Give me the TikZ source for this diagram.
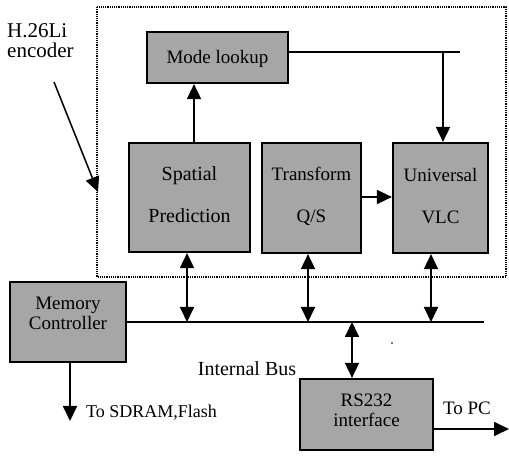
\documentclass[tikz,border=0pt]{standalone}
\usepackage{fontspec}
\setmainfont{Liberation Serif}
\usetikzlibrary{arrows.meta}
\begin{document}
\begin{tikzpicture}[x=1pt,y=-1pt,
  blockbox/.style={draw=black,line width=2.2pt,fill=black!35,rectangle,inner sep=0pt},
  lbl/.style={font=\fontsize{19}{20}\selectfont,align=center,inner sep=0pt},
  conn/.style={line width=1.8pt,-{Triangle[length=15pt,width=14pt]}},
  biconn/.style={line width=1.8pt,{Triangle[length=15pt,width=14pt]}-{Triangle[length=15pt,width=14pt]}},
  plain/.style={line width=1.8pt}]
\useasboundingbox (0,0) rectangle (509,462);

% encoder boundary
\draw[line width=1.2pt,dash pattern=on 1.2pt off 1pt] (97,7) rectangle (506,277);

% blocks
\node[blockbox,minimum width=141pt,minimum height=51pt] (mode) at (217.5,57.5) {};
\node[lbl] (modet) at (217.5,59) {Mode lookup};
\node[blockbox,minimum width=121pt,minimum height=109pt] (spatial) at (189.5,197.5) {};
\node[lbl,font=\fontsize{20}{21}\selectfont] (spatialt) at (189.5,195) {Spatial\\[21pt]Prediction};
\node[blockbox,minimum width=99pt,minimum height=110pt] (transform) at (311.5,198) {};
\node[lbl] (transformt) at (311.5,196) {Transform\\[22pt]Q/S};
\node[blockbox,minimum width=95pt,minimum height=110pt] (universal) at (440.5,198) {};
\node[lbl] (universalt) at (440.5,196) {Universal\\[22pt]VLC};
\node[blockbox,minimum width=116pt,minimum height=80pt] (mem) at (68,322) {};
\node[lbl] (memt) at (68,313) {Memory\\Controller};
\node[blockbox,minimum width=133pt,minimum height=71pt] (rs) at (366.5,414.5) {};
\node[lbl] (rst) at (366.5,410) {RS232\\interface};

% internal bus
\coordinate (busL) at (mem.east |- 0,322);
\coordinate (busR) at (484,322);
\draw[plain] (busL) -- (busR);
\coordinate (bSp) at (187,322);
\coordinate (bTr) at (308,322);
\coordinate (bUn) at (431,322);
\coordinate (bRs) at (352,322);

% mode lookup to VLC
\coordinate (mEnd) at (460,52);
\coordinate (mDrop) at (443,52);
\draw[plain] (mode.east |- 0,52) -- (mEnd);
\draw[conn] (mDrop) -- (universal.north -| mDrop);

% data path
\draw[conn] (spatial.north -| 194,0) -- (mode.south -| 194,0);
\draw[conn] (transform.east |- 0,197) -- (universal.west |- 0,197);

% bus connections
\draw[biconn] (spatial.south -| bSp) -- (bSp);
\draw[biconn] (transform.south -| bTr) -- (bTr);
\draw[biconn] (universal.south -| bUn) -- (bUn);
\draw[biconn] (bRs) -- (rs.north -| bRs);

% external links
\coordinate (sdram) at (70,421);
\draw[conn] (mem.south -| sdram) -- (sdram);
\node[lbl,font=\fontsize{18}{20}\selectfont,anchor=west] (sdramt) at (86,413) {To SDRAM,Flash};
\coordinate (pc) at (509,429);
\draw[conn] (rs.east |- pc) -- (pc);
\node[lbl] (pct) at (467,408) {To PC};
\node[lbl,font=\fontsize{20}{21}\selectfont] (bust) at (247,369) {Internal Bus};

% encoder label
\node[lbl,font=\fontsize{21}{20}\selectfont,align=left,anchor=north west] (enc) at (7,23) {H.26Li\\encoder};
\coordinate (encA) at (54,82);
\coordinate (encB) at (98,192);
\draw[line width=1.5pt,-{Triangle[length=15pt,width=14pt]}] (encA) -- (encB);

\fill (392,343) circle (0.9pt);
\end{tikzpicture}
\end{document}
